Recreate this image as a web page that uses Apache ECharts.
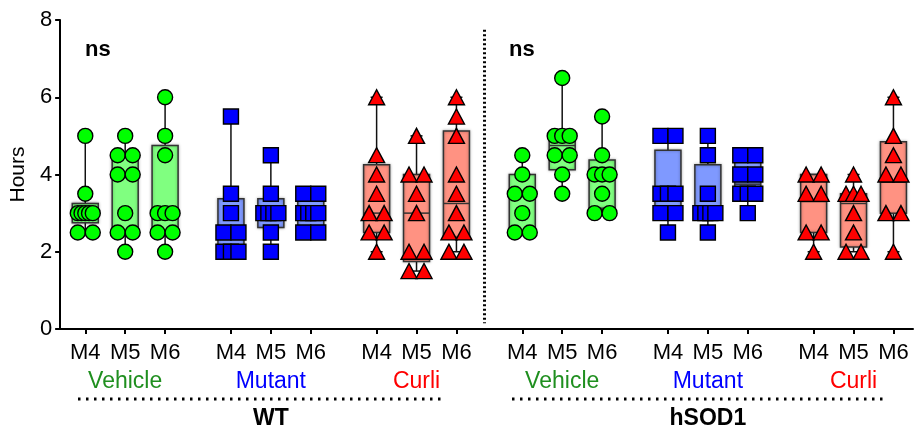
<!DOCTYPE html>
<html><head><meta charset="utf-8">
<script src="https://cdn.jsdelivr.net/npm/echarts@6/dist/echarts.min.js"></script>
<style>html,body{margin:0;padding:0;background:#fff}#c{width:914px;height:432px}</style>
</head><body><div id="c"></div>
<script>
// ---------- data ----------
const timepoints = ['M4', 'M5', 'M6'];
const treatments = ['Vehicle', 'Mutant', 'Curli'];
const genotypes = ['WT', 'hSOD1'];
const yTicks = [0, 2, 4, 6, 8];

// individual values (hours), one list per time point
const wtVehiclePoints   = [[5, 3.5, 3, 3, 3, 3, 3, 2.5, 2.5], [5, 4.5, 4.5, 4, 4, 3, 2.5, 2.5, 2], [6, 5, 4.5, 3, 3, 3, 2.5, 2.5, 2]];
const wtMutantPoints    = [[5.5, 3.5, 3, 2.5, 2.5, 2, 2, 2], [4.5, 3.5, 3, 3, 3, 3, 2.5, 2], [3.5, 3.5, 3, 3, 3, 3, 2.5, 2.5]];
const wtCurliPoints     = [[6, 4.5, 4, 3.5, 3, 3, 2.5, 2.5, 2], [5, 4, 4, 3.5, 3, 2, 2, 1.5, 1.5], [6, 5.5, 5, 4, 3.5, 3, 2.5, 2.5, 2, 2]];
const hsodVehiclePoints = [[4.5, 4, 3.5, 3.5, 3, 2.5, 2.5], [6.5, 5, 5, 5, 4.5, 4.5, 4, 3.5], [5.5, 4.5, 4, 4, 4, 3.5, 3, 3]];
const hsodMutantPoints  = [[5, 5, 3.5, 3.5, 3.5, 3, 3, 2.5], [5, 4.5, 3.5, 3, 3, 3, 3, 2.5], [4.5, 4.5, 4, 4, 3.5, 3.5, 3.5, 3]];
const hsodCurliPoints   = [[4, 4, 3.5, 3.5, 2.5, 2.5, 2], [4, 3.5, 3.5, 3.5, 3, 2.5, 2, 2], [6, 5, 4.5, 4, 4, 3, 3, 2]];

// box summaries [min, Q1, median, Q3, max]
const wtVehicleBoxes   = [[2.5, 2.75, 3, 3.25, 5], [2, 2.5, 4, 4.5, 5], [2, 2.5, 3, 4.75, 6]];
const wtMutantBoxes    = [[2, 2, 2.5, 3.375, 5.5], [2, 2.625, 3, 3.375, 4.5], [2.5, 2.625, 3, 3.375, 3.5]];
const wtCurliBoxes     = [[2, 2.5, 3, 4.25, 6], [1.5, 1.75, 3, 4, 5], [2, 2.375, 3.25, 5.125, 6]];
const hsodVehicleBoxes = [[2.5, 2.5, 3.5, 4, 4.5], [3.5, 4.125, 4.75, 5, 6.5], [3, 3.125, 4, 4.375, 5.5]];
const hsodMutantBoxes  = [[2.5, 3, 3.5, 4.625, 5], [2.5, 3, 3, 4.25, 5], [3, 3.5, 3.75, 4.375, 4.5]];
const hsodCurliBoxes   = [[2, 2.5, 3.3, 4, 4], [2, 2.125, 3.25, 3.5, 4], [2, 3, 3.8, 4.85, 6]];

// ---------- layout / style ----------
const GROUP_STEP = 3.65;
const SEPARATOR_X = 10;
const FONT = "'Liberation Sans', Arial, Helvetica, sans-serif";
const treatColors = ['#1f8f1f', '#0000ff', '#ff0000'];
const pointColors = ['#00ff00', '#0000ff', '#ff0000'];
const boxFills = ['#80ff80', '#7f99ff', '#ff9282'];
const symbols = ['circle', 'rect', 'triangle'];
const symbolSizes = [15, 15, [16, 15]];

const groups = [
  { g: 0, t: 0, pts: wtVehiclePoints, box: wtVehicleBoxes },
  { g: 1, t: 1, pts: wtMutantPoints, box: wtMutantBoxes },
  { g: 2, t: 2, pts: wtCurliPoints, box: wtCurliBoxes },
  { g: 3, t: 0, pts: hsodVehiclePoints, box: hsodVehicleBoxes },
  { g: 4, t: 1, pts: hsodMutantPoints, box: hsodMutantBoxes },
  { g: 5, t: 2, pts: hsodCurliPoints, box: hsodCurliBoxes }
];
const xPos = (g, k) => g * GROUP_STEP + k;

const tickPositions = [];
groups.forEach(gr => timepoints.forEach((_, k) => tickPositions.push(xPos(gr.g, k))));
const groupCenters = groups.map(gr => xPos(gr.g, 1));
const genoCenters = [xPos(1, 1), xPos(4, 1)];
const findIdx = (arr, v) => arr.findIndex(a => Math.abs(a - v) < 1e-6);

function jitter(values) {
  const out = [];
  const seen = {};
  const counts = {};
  values.forEach(v => counts[v] = (counts[v] || 0) + 1);
  values.forEach(v => {
    const n = counts[v];
    const j = seen[v] || 0;
    seen[v] = j + 1;
    out.push(n === 1 ? 0 : -7.5 + 15 * j / (n - 1));
  });
  return out;
}

const series = [];
treatments.forEach((tr, t) => {
  const boxData = [];
  const ptData = [];
  groups.filter(gr => gr.t === t).forEach(gr => {
    timepoints.forEach((_, k) => {
      const x = xPos(gr.g, k);
      boxData.push([x].concat(gr.box[k]));
      const vals = gr.pts[k];
      const dx = jitter(vals);
      vals.forEach((v, i) => ptData.push({ value: [x, v], symbolOffset: [dx[i], 0] }));
    });
  });
  series.push({
    type: 'custom',
    name: tr + ' box',
    z: 2,
    encode: { x: 0, y: [1, 2, 3, 4, 5] },
    data: boxData,
    renderItem: (params, api) => {
      const x = api.value(0);
      const c = v => api.coord([x, v]);
      const pMin = c(api.value(1)), pQ1 = c(api.value(2)), pMed = c(api.value(3)), pQ3 = c(api.value(4)), pMax = c(api.value(5));
      const cx = pMin[0], hw = 13, cap = 6;
      const ls = { stroke: '#111', lineWidth: 1.5 };
      return {
        type: 'group',
        children: [
          { type: 'line', shape: { x1: cx, y1: pMax[1], x2: cx, y2: pMin[1] }, style: ls },
          { type: 'line', shape: { x1: cx - cap, y1: pMax[1], x2: cx + cap, y2: pMax[1] }, style: ls },
          { type: 'line', shape: { x1: cx - cap, y1: pMin[1], x2: cx + cap, y2: pMin[1] }, style: ls },
          { type: 'rect', shape: { x: cx - hw, y: pQ3[1], width: 2 * hw, height: pQ1[1] - pQ3[1] },
            style: { fill: boxFills[t], stroke: '#333', lineWidth: 1.5, shadowBlur: 3, shadowColor: 'rgba(0,0,0,0.35)' } },
          { type: 'line', shape: { x1: cx - hw, y1: pMed[1], x2: cx + hw, y2: pMed[1] }, style: { stroke: '#333', lineWidth: 1.5 } }
        ]
      };
    }
  });
  series.push({
    type: 'scatter',
    name: tr,
    z: 3,
    symbol: symbols[t],
    symbolSize: symbolSizes[t],
    itemStyle: { color: pointColors[t], borderColor: '#000', borderWidth: 1.4, opacity: 1 },
    emphasis: { disabled: true },
    data: ptData
  });
});

// vertical dotted separator between genotypes
series.push({
  type: 'line', data: [], silent: true,
  markLine: {
    silent: true, symbol: 'none', animation: false,
    label: { show: false },
    lineStyle: { color: '#000', width: 3, type: [2, 2.5] },
    data: [[{ coord: [SEPARATOR_X, 7.75] }, { coord: [SEPARATOR_X, 0.15] }]]
  }
});

const X_MIN = -0.63, X_MAX = 20.74;
const hiddenAxisParts = { axisLine: { show: false }, axisTick: { show: false }, splitLine: { show: false } };

const option = {
  animation: false,
  backgroundColor: '#fff',
  grid: { left: 58, right: 1, top: 20, bottom: 103, containLabel: false },
  xAxis: [
    {
      type: 'value', min: X_MIN, max: X_MAX, position: 'bottom',
      axisLine: { show: true, onZero: false, lineStyle: { color: '#000', width: 2 } },
      axisTick: { show: true, customValues: tickPositions, length: 5, lineStyle: { color: '#000', width: 2 } },
      splitLine: { show: false },
      axisLabel: {
        customValues: tickPositions, margin: 13, fontSize: 22, color: '#000', fontFamily: FONT,
        formatter: v => timepoints[findIdx(tickPositions, v) % 3]
      }
    },
    Object.assign({
      type: 'value', min: X_MIN, max: X_MAX, position: 'bottom', offset: 29,
      axisLabel: {
        customValues: groupCenters, margin: 12, fontSize: 23, fontFamily: FONT,
        formatter: v => { const i = findIdx(groupCenters, v) % 3; return '{t' + i + '|' + treatments[i] + '}'; },
        rich: {
          t0: { color: treatColors[0], fontSize: 23, fontFamily: FONT },
          t1: { color: treatColors[1], fontSize: 23, fontFamily: FONT },
          t2: { color: treatColors[2], fontSize: 23, fontFamily: FONT }
        }
      }
    }, hiddenAxisParts),
    Object.assign({
      type: 'value', min: X_MIN, max: X_MAX, position: 'bottom', offset: 66,
      axisLabel: {
        customValues: genoCenters, margin: 12, fontSize: 23, fontWeight: 'bold', color: '#000', fontFamily: FONT,
        formatter: v => genotypes[findIdx(genoCenters, v)]
      }
    }, hiddenAxisParts)
  ],
  yAxis: {
    type: 'value', min: 0, max: 8, interval: 2, position: 'left',
    name: 'Hours', nameLocation: 'middle', nameGap: 28, nameRotate: 90,
    nameTextStyle: { fontSize: 21, color: '#000', fontFamily: FONT },
    axisLine: { show: true, onZero: false, lineStyle: { color: '#000', width: 2 } },
    axisTick: { show: true, length: 5, lineStyle: { color: '#000', width: 2 } },
    splitLine: { show: false },
    axisLabel: { margin: 8, fontSize: 22, color: '#000', fontFamily: FONT,
      formatter: v => (yTicks.indexOf(v) >= 0 ? String(v) : '') }
  },
  graphic: [
    { type: 'text', left: 85, top: 39, style: { text: 'ns', fontSize: 22, fontWeight: 'bold', fill: '#000', fontFamily: FONT } },
    { type: 'text', left: 509, top: 39, style: { text: 'ns', fontSize: 22, fontWeight: 'bold', fill: '#000', fontFamily: FONT } },
    { type: 'line', shape: { x1: 78, y1: 399, x2: 443, y2: 399 }, style: { stroke: '#000', lineWidth: 3, lineDash: [2.5, 5.5] } },
    { type: 'line', shape: { x1: 512, y1: 399, x2: 885, y2: 399 }, style: { stroke: '#000', lineWidth: 3, lineDash: [2.5, 5.5] } }
  ],
  series: series
};

const chart = echarts.init(document.getElementById('c'), null, { renderer: 'canvas' });
chart.setOption(option);
</script>
</body></html>
